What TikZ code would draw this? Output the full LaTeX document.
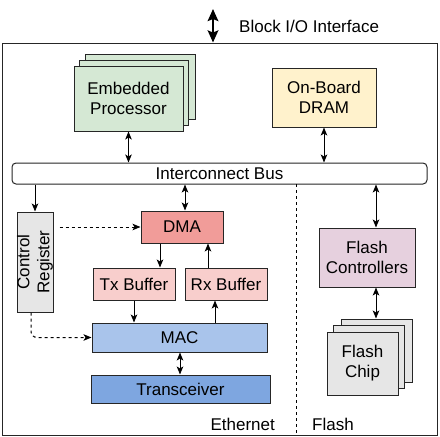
\documentclass[tikz,border=0pt]{standalone}
\usepackage{fontspec}
\setmainfont{Liberation Sans}
\usetikzlibrary{arrows.meta,calc}
\definecolor{cgreen}{HTML}{D5E8D4}
\definecolor{cyellow}{HTML}{FFF2CC}
\definecolor{cdma}{HTML}{F19C99}
\definecolor{cbuf}{HTML}{F8CECC}
\definecolor{cmac}{HTML}{A9C4EB}
\definecolor{ctrx}{HTML}{7EA6E0}
\definecolor{cflash}{HTML}{E6D0DE}
\definecolor{cgray}{HTML}{E6E6E6}
\begin{document}
\begin{tikzpicture}[x=1pt,y=-1pt,
  txt/.style={font=\fontsize{17}{20}\selectfont, inner sep=0pt},
  box/.style={txt, draw=black!85, line width=1pt, align=center, minimum width=#1},
  box/.default=10pt,
  conn/.style={line width=1pt, -{Stealth[length=8pt,width=6.5pt,inset=2pt]}},
  dconn/.style={line width=1pt, {Stealth[length=8pt,width=6.5pt,inset=2pt]}-{Stealth[length=8pt,width=6.5pt,inset=2pt]}},
  dashconn/.style={conn, dashed},
  bigio/.style={line width=2.4pt, {Stealth[length=12pt,width=10.5pt,inset=2pt]}-{Stealth[length=12pt,width=10.5pt,inset=2pt]}}
]
\useasboundingbox (0,0) rectangle (440,437);
% outer frame
\node[draw=black!85, line width=1pt, minimum width=435pt, minimum height=392pt, inner sep=0pt] (frame) at (219.5,239) {};
\coordinate (iotop) at (213,9);
\draw[bigio] (iotop) -- (iotop |- frame.north);
\node[txt, anchor=west] (iolabel) at (239,26) {Block I/O Interface};

% embedded processor stack
\node[box=110pt, minimum height=65pt, fill=cgreen] (p3) at (140,86.5) {};
\node[box=109pt, minimum height=65pt, fill=cgreen] (p2) at (134,93) {};
\node[box=109pt, minimum height=65pt, fill=cgreen] (proc) at (128.5,98.5) {Embedded\\Processor};

% DRAM
\node[box=104pt, minimum height=59pt, fill=cyellow] (dram) at (324,97.5) {On-Board\\DRAM};

% bus
\node[box=415pt, minimum height=21pt, rounded corners=4pt, fill=white] (bus) at (219.5,173.5) {Interconnect Bus};

\draw[dconn] (proc.south) -- (proc.south |- bus.north);
\draw[dconn] (dram.south) -- (dram.south |- bus.north);

% control register
\node[box=100pt, minimum height=36pt, fill=cgray, rotate=90] (cr) at (35,262) {Control\\Register};

% DMA and buffers
\node[box=82pt, minimum height=32pt, fill=cdma] (dma) at (182,227) {DMA};
\node[box=82pt, minimum height=32pt, fill=cbuf] (tx) at (134,284) {Tx Buffer};
\node[box=82pt, minimum height=32pt, fill=cbuf] (rx) at (226,284) {Rx Buffer};
\node[box=175pt, minimum height=29pt, fill=cmac] (mac) at (179.5,337.5) {MAC};
\node[box=179pt, minimum height=28pt, fill=ctrx] (trx) at (180.5,389) {Transceiver};

% flash
\node[box=96pt, minimum height=59pt, fill=cflash] (fc) at (367,257.5) {Flash\\Controllers};
\node[box=71pt, minimum height=63pt, fill=cgray] (f3) at (376.5,350.5) {};
\node[box=71pt, minimum height=63pt, fill=cgray] (f2) at (369,357) {};
\node[box=71pt, minimum height=63pt, fill=cgray] (chip) at (362.5,363.5) {Flash\\Chip};

% connectors
\draw[conn] (bus.south -| cr.east) -- (cr.east);
\coordinate (dmax) at ($(dma.north)+(3,0)$);
\draw[dconn] (bus.south -| dmax) -- (dmax);
\draw[dashconn, shorten <=6pt] (cr.south |- dma.west) -- (dma.west);
\coordinate (dmatx) at ($(dma.south)+(-22,0)$);
\draw[conn] (dmatx) -- (dmatx |- tx.north);
\coordinate (rxdma) at ($(dma.south)+(26,0)$);
\draw[conn] (rxdma |- rx.north) -- (rxdma);
\draw[conn] (tx.south) -- (tx.south |- mac.north);
\coordinate (macrx) at ($(rx.south)+(-11,0)$);
\draw[conn] (macrx |- mac.north) -- (macrx);
\coordinate (mactrx) at ($(mac.south)+(0.5,0)$);
\draw[dconn] (mactrx) -- (mactrx |- trx.north);
\coordinate (crb) at ($(cr.west)+(-4,0)$);
\draw[dashconn, rounded corners=6pt] (crb) -- (crb |- mac.west) -- (mac.west);

\coordinate (fcx) at ($(fc.north)+(9,0)$);
\draw[dconn] (bus.south -| fcx) -- (fcx);
\coordinate (fcy) at ($(fc.south)+(9,0)$);
\draw[dconn] (fcy) -- (fcy |- f3.north);

% separator
\coordinate (sep) at (296,184);
\draw[line width=1pt, dashed] (sep) -- (sep |- frame.south);

\node[txt, anchor=east] (eth) at (275,424) {Ethernet};
\node[txt, anchor=west] (flashlbl) at (312,424) {Flash};
\end{tikzpicture}
\end{document}
